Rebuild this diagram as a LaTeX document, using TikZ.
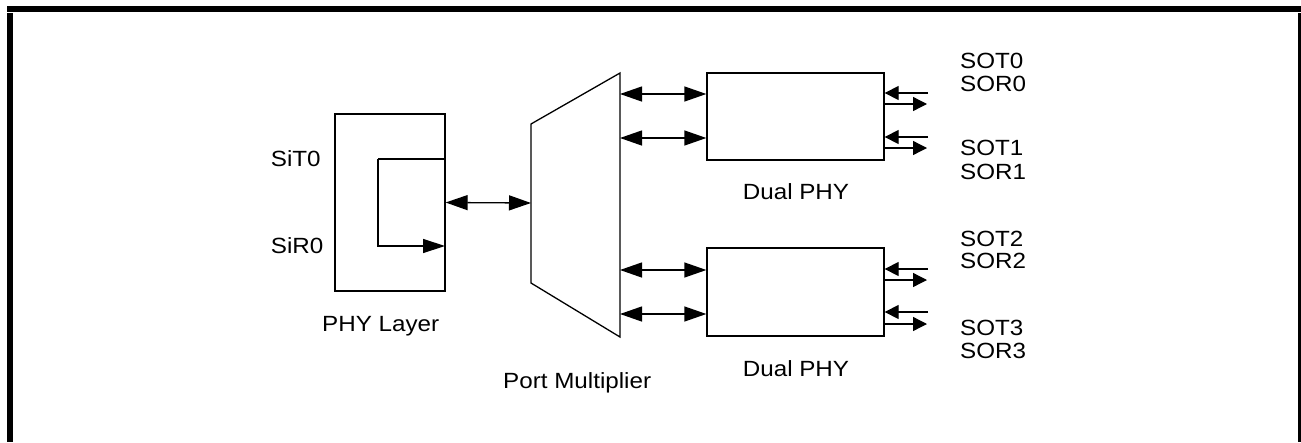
\documentclass[tikz,border=0pt]{standalone}
\usepackage{fontspec}
\setmainfont{Liberation Sans}[FakeStretch=1.1]
\usetikzlibrary{arrows.meta,calc}
\begin{document}
\begin{tikzpicture}[x=1pt,y=-1pt,
  ln/.style={line width=1.3pt},
  box/.style={draw,ln,rectangle,inner sep=0pt},
  lbl/.style={inner sep=0pt,font=\fontsize{22}{26}\selectfont},
  big/.style={ln,{Triangle[length=22pt,width=15pt]}-{Triangle[length=22pt,width=15pt]}},
  bigone/.style={ln,-{Triangle[length=22pt,width=14pt]}},
  sm/.style={ln,-{Triangle[length=14pt,width=14pt]}}]
\useasboundingbox (0,0) rectangle (1301,442);
% frame
\fill[black] (7,6) rectangle (1301,12);
\fill[black] (7,13) rectangle (13,442);
\fill[black] (1298,13) rectangle (1301,442);
% PHY layer
\node[box,minimum width=110pt,minimum height=177pt] (phy) at (390,202.5) {};
\coordinate (lt) at (445,159);
\coordinate (lb) at (445,246);
\draw[ln] (lt) -- ++(-67,0) coordinate (lc);
\draw[bigone] (lc) |- (lb);
% mux
\coordinate (mtl) at (531,124);
\coordinate (mtr) at (620,73);
\coordinate (mbr) at (620,337);
\coordinate (mbl) at (531,283);
\draw[ln,line join=miter] (mtl) -- (mtr) -- (mbr) -- (mbl) -- cycle;
\coordinate (mL) at (531,203);
\draw[big] (phy.east) -- (mL);
% dual PHYs
\node[box,minimum width=177pt,minimum height=87pt] (dp1) at (795.5,116.5) {};
\node[box,minimum width=177pt,minimum height=88pt] (dp2) at (795.5,292) {};
\coordinate (m1) at (620,94);
\coordinate (m2) at (620,138);
\coordinate (m3) at (620,270);
\coordinate (m4) at (620,314);
\draw[big] (m1) -- (m1 -| dp1.west);
\draw[big] (m2) -- (m2 -| dp1.west);
\draw[big] (m3) -- (m3 -| dp2.west);
\draw[big] (m4) -- (m4 -| dp2.west);
% right side arrows
\coordinate (i0) at (928,93);
\coordinate (o0) at (927,104);
\coordinate (i1) at (928,137);
\coordinate (o1) at (927,148);
\coordinate (i2) at (928,269);
\coordinate (o2) at (927,280);
\coordinate (i3) at (928,312);
\coordinate (o3) at (927,324);
\draw[sm] (i0) -- (i0 -| dp1.east);
\draw[sm] (o0 -| dp1.east) -- (o0);
\draw[sm] (i1) -- (i1 -| dp1.east);
\draw[sm] (o1 -| dp1.east) -- (o1);
\draw[sm] (i2) -- (i2 -| dp2.east);
\draw[sm] (o2 -| dp2.east) -- (o2);
\draw[sm] (i3) -- (i3 -| dp2.east);
\draw[sm] (o3 -| dp2.east) -- (o3);
% labels
\node[lbl,anchor=base west] (sot0) at (960,68) {SOT0};
\node[lbl,anchor=base west] (sor0) at (960,91.7) {SOR0};
\node[lbl,anchor=base west] (sot1) at (960,155.7) {SOT1};
\node[lbl,anchor=base west] (sor1) at (960,179) {SOR1};
\node[lbl,anchor=base west] (sot2) at (960,246) {SOT2};
\node[lbl,anchor=base west] (sor2) at (960,268.3) {SOR2};
\node[lbl,anchor=base west] (sot3) at (960,335.7) {SOT3};
\node[lbl,anchor=base west] (sor3) at (960,358.3) {SOR3};
\node[lbl,anchor=base west] (sit0) at (270.7,166.7) {SiT0};
\node[lbl,anchor=base west] (sir0) at (270.7,253) {SiR0};
\node[lbl,anchor=base west] (phyl) at (322,331.7) {PHY Layer};
\node[lbl,anchor=base west] (pml) at (503,388) {Port Multiplier};
\node[lbl,anchor=base] (dpl1) at (796,199) {Dual PHY};
\node[lbl,anchor=base] (dpl2) at (796,376) {Dual PHY};
\end{tikzpicture}
\end{document}
